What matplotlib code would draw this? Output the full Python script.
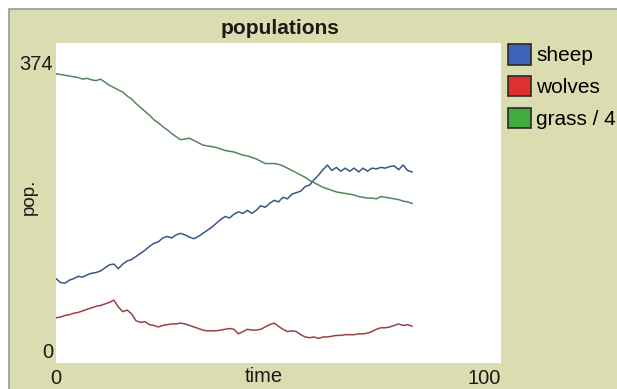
import matplotlib
matplotlib.use("Agg")
import matplotlib.pyplot as plt
import matplotlib.patches as mpatches

# ticks 0..80
ticks = list(range(81))

sheep = [93, 88, 87, 91, 93, 96, 95, 98, 100, 101,
         103, 107, 111, 112, 106, 112, 116, 118, 122, 126,
         130, 135, 139, 141, 146, 148, 146, 150, 152, 150,
         147, 145, 148, 152, 156, 160, 165, 170, 174, 172,
         177, 180, 178, 182, 178, 182, 188, 186, 191, 195,
         193, 199, 197, 203, 205, 207, 213, 215, 222, 228,
         235, 241, 234, 238, 233, 237, 233, 237, 232, 237,
         233, 237, 236, 238, 237, 239, 240, 235, 241, 234,
         232]

wolves = [42, 43, 45, 46, 48, 49, 51, 53, 55, 57,
          58, 60, 62, 65, 56, 50, 52, 47, 38, 36,
          37, 33, 32, 30, 32, 33, 34, 34, 35, 34,
          32, 30, 28, 26, 25, 25, 25, 26, 27, 28,
          27, 21, 24, 27, 26, 26, 27, 30, 33, 35,
          31, 27, 24, 25, 24, 20, 17, 16, 17, 15,
          17, 17, 18, 19, 19, 20, 20, 20, 21, 21,
          22, 24, 27, 29, 29, 30, 32, 34, 32, 33,
          31]

grass = [360, 359, 358, 357, 356, 355, 353, 354, 352, 351,
         353, 349, 345, 342, 339, 336, 331, 327, 321, 316,
         311, 306, 300, 296, 291, 287, 282, 278, 274, 275,
         276, 273, 270, 267, 266, 265, 264, 262, 260, 259,
         258, 256, 254, 253, 251, 249, 246, 243, 243, 243,
         242, 240, 237, 234, 231, 228, 225, 221, 218, 215,
         212, 210, 208, 206, 205, 204, 203, 202, 200, 199,
         198, 198, 197, 200, 199, 198, 197, 196, 194, 193,
         191]

series_names = ["sheep", "wolves", "grass / 4"]
line_colors = ["#3a5586", "#954444", "#57845a"]
swatch_colors = ["#3e62b8", "#de3030", "#40ac40"]

x_max = 100
y_max = 374

BEIGE = "#dcdcb1"

plt.rcParams["font.family"] = ["Liberation Sans", "DejaVu Sans"]

fig = plt.figure(figsize=(6.17, 3.89), dpi=100)
fig.patch.set_facecolor("white")

# widget frame, kept behind the plot (runs off the right and bottom edges)
W, H = 617, 389
frame = mpatches.Rectangle((9 / W, -0.1), 1, 1.1 - 9 / H, transform=fig.transFigure,
                           facecolor=BEIGE, edgecolor="#9a9a9a", linewidth=1.2,
                           zorder=-10)
fig.patches.append(frame)

ax = fig.add_axes([56 / W, 1 - 363 / H, 445 / W, 320 / H])
ax.set_zorder(1)
ax.set_facecolor("white")
for s in ax.spines.values():
    s.set_visible(False)

for vals, c in zip([sheep, wolves, grass], line_colors):
    ax.plot(ticks, vals, color=c, linewidth=1.1)

# y: 0 sits at px 350, 374 at px 63
per_px = y_max / (350 - 63)
ax.set_ylim(-(363 - 350) * per_px, y_max + (63 - 43) * per_px)
ax.set_xlim(0, x_max)

ax.set_yticks([0, y_max])
ax.set_yticklabels(["0", str(y_max)])
ax.set_xticks([0, x_max])
ax.set_xticklabels(["0", str(x_max)])
ax.tick_params(length=0, labelsize=14.5, colors="#1a1a1a")
ax.tick_params(axis="y", pad=2)
ax.tick_params(axis="x", pad=4)
ax.get_xticklabels()[-1].set_horizontalalignment("right")

ax.set_xlabel("time", fontsize=14.5, color="#1a1a1a", labelpad=0)
ax.xaxis.set_label_coords(0.467, -(377 - 363) / 320, transform=ax.transAxes)
ax.xaxis.label.set_va("center")
ax.set_ylabel("pop.", fontsize=13.5, color="#1a1a1a")
ax.yaxis.set_label_coords(-0.04, 0.52)

fig.text(280 / W, 1 - 29 / H, "populations", ha="center", va="center",
         fontsize=15, fontweight="bold", color="#1a1a1a")

handles = [mpatches.Patch(facecolor=c, edgecolor="#2a2a2a", linewidth=1.2, label=n)
           for c, n in zip(swatch_colors, series_names)]
fig.legend(handles=handles, loc="upper left", bbox_to_anchor=(508 / W, 1 - 44 / H),
           frameon=False, fontsize=15, handlelength=1.1, handleheight=1.15,
           handletextpad=0.25, labelspacing=0.5, borderpad=0, borderaxespad=0)

fig.savefig("out.png", dpi=100, facecolor=fig.get_facecolor())
